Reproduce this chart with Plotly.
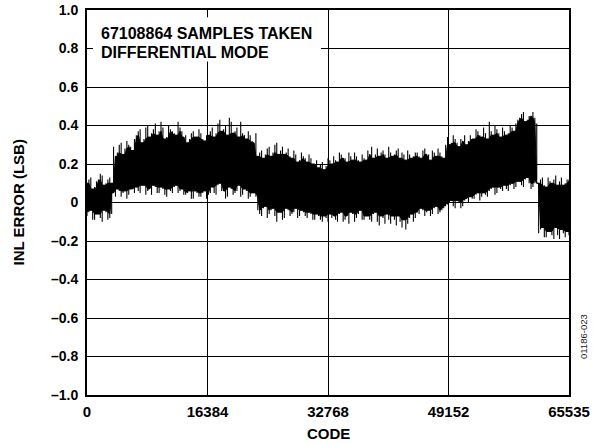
import numpy as np
import plotly.graph_objects as go

# ---- data (INL error envelope, LSB) ----
code_min = 0
code_max = 65535

# envelope at 128 evenly spaced codes
inl_upper = [
    0.10, 0.13, 0.08, 0.12, 0.14, 0.10, 0.13,
    0.29, 0.26, 0.31, 0.28, 0.30, 0.27,
    0.35, 0.38, 0.33, 0.40, 0.36, 0.41, 0.37, 0.39, 0.34, 0.38, 0.36, 0.42, 0.37,
    0.35, 0.33, 0.37, 0.34, 0.36, 0.32, 0.35,
    0.39, 0.36, 0.43, 0.38, 0.35, 0.42, 0.37, 0.34, 0.36, 0.33, 0.35, 0.31,
    0.24, 0.27, 0.25, 0.29, 0.26, 0.31, 0.27, 0.25, 0.28, 0.23, 0.25, 0.22, 0.24, 0.21, 0.23,
    0.20, 0.18, 0.21, 0.19, 0.22,
    0.24, 0.21, 0.25, 0.23, 0.26, 0.22, 0.24, 0.21, 0.23,
    0.27, 0.29, 0.25, 0.24, 0.27, 0.23, 0.26, 0.25, 0.28, 0.26, 0.22, 0.25, 0.24,
    0.26, 0.23, 0.28, 0.25, 0.27, 0.24, 0.26, 0.23,
    0.34, 0.31, 0.33, 0.29, 0.32, 0.30,
    0.35, 0.33, 0.37, 0.34, 0.36, 0.42, 0.35, 0.38, 0.34, 0.37, 0.36, 0.39, 0.41,
    0.44, 0.47, 0.43, 0.45, 0.44,
    0.10, 0.13, 0.08, 0.11, 0.12, 0.09, 0.13, 0.10, 0.12,
]
inl_lower = [
    -0.07, -0.04, -0.09, -0.06, -0.10, -0.05, -0.08,
    0.05, 0.07, 0.03, 0.06, 0.04, 0.07,
    0.08, 0.05, 0.09, 0.06, 0.04, 0.08, 0.05, 0.07, 0.03, 0.06, 0.08, 0.05, 0.07,
    0.04, 0.06, 0.02, 0.05, 0.03, 0.06, 0.04,
    0.08, 0.04, 0.10, 0.06, 0.03, 0.07, 0.05, 0.09, 0.04, 0.06, 0.03, 0.05,
    -0.04, -0.07, -0.02, -0.06, -0.03, -0.10, -0.05, -0.08, -0.04, -0.06, -0.03, -0.07, -0.05, -0.08, -0.06,
    -0.09, -0.07, -0.10, -0.08, -0.06,
    -0.07, -0.10, -0.05, -0.09, -0.11, -0.06, -0.08, -0.04, -0.09,
    -0.07, -0.10, -0.05, -0.12, -0.08, -0.06, -0.11, -0.09, -0.07, -0.13, -0.14, -0.08, -0.10,
    -0.05, -0.03, -0.07, -0.04, -0.06, -0.02, -0.05, -0.03,
    -0.01, 0.01, -0.03, 0.00, -0.02, 0.02,
    0.03, 0.02, 0.05, 0.03, 0.04, 0.06, 0.08, 0.05, 0.07, 0.09, 0.06, 0.10, 0.08,
    0.11, 0.08, 0.13, 0.07, 0.10,
    -0.16, -0.13, -0.18, -0.15, -0.19, -0.17, -0.14, -0.18, -0.15,
]

# envelope read half-way between the codes above
inl_upper_mid = [
    0.12, 0.07, 0.11, 0.15, 0.09, 0.12, 0.10,
    0.24, 0.30, 0.25, 0.32, 0.29, 0.33,
    0.37, 0.31, 0.39, 0.34, 0.38, 0.35, 0.42, 0.33, 0.40, 0.37, 0.35, 0.39, 0.34,
    0.31, 0.36, 0.34, 0.38, 0.33, 0.35, 0.37,
    0.34, 0.41, 0.37, 0.40, 0.44, 0.36, 0.39, 0.42, 0.35, 0.37, 0.32, 0.36,
    0.26, 0.23, 0.28, 0.24, 0.30, 0.25, 0.29, 0.26, 0.24, 0.27, 0.21, 0.26, 0.23, 0.25, 0.20,
    0.22, 0.20, 0.17, 0.23, 0.20,
    0.22, 0.26, 0.23, 0.21, 0.24, 0.26, 0.22, 0.25, 0.22,
    0.25, 0.23, 0.28, 0.26, 0.25, 0.29, 0.24, 0.27, 0.23, 0.25, 0.27, 0.23, 0.26,
    0.24, 0.27, 0.25, 0.22, 0.26, 0.28, 0.24, 0.30,
    0.30, 0.35, 0.31, 0.33, 0.35, 0.32,
    0.33, 0.38, 0.35, 0.39, 0.33, 0.37, 0.40, 0.36, 0.39, 0.35, 0.40, 0.37, 0.43,
    0.46, 0.42, 0.45, 0.47, 0.41,
    0.12, 0.09, 0.13, 0.10, 0.14, 0.11, 0.09, 0.12, 0.11,
]
inl_lower_mid = [
    -0.05, -0.09, -0.06, -0.08, -0.04, -0.09, -0.06,
    0.03, 0.06, 0.05, 0.02, 0.07, 0.05,
    0.06, 0.09, 0.04, 0.07, 0.09, 0.05, 0.08, 0.04, 0.07, 0.05, 0.09, 0.06, 0.04,
    0.05, 0.02, 0.06, 0.03, 0.05, 0.02, 0.05,
    0.05, 0.09, 0.06, 0.02, 0.08, 0.04, 0.06, 0.03, 0.07, 0.02, 0.05, 0.03,
    -0.06, -0.03, -0.08, -0.04, -0.07, -0.05, -0.09, -0.03, -0.07, -0.05, -0.08, -0.04, -0.07, -0.05, -0.09,
    -0.06, -0.09, -0.07, -0.10, -0.08,
    -0.09, -0.06, -0.10, -0.07, -0.05, -0.10, -0.06, -0.09, -0.07,
    -0.09, -0.06, -0.10, -0.07, -0.11, -0.09, -0.07, -0.12, -0.10, -0.09, -0.11, -0.06, -0.08,
    -0.06, -0.04, -0.05, -0.07, -0.03, -0.06, -0.04, -0.02,
    0.00, -0.02, 0.01, -0.03, 0.01, 0.00,
    0.02, 0.04, 0.01, 0.05, 0.03, 0.07, 0.04, 0.08, 0.06, 0.07, 0.09, 0.07, 0.11,
    0.09, 0.12, 0.10, 0.08, 0.12,
    -0.14, -0.18, -0.15, -0.17, -0.13, -0.19, -0.16, -0.15, -0.17,
]

x_tickvals = [0, 16384, 32768, 49152, 65535]
x_ticktext = ["0", "16384", "32768", "49152", "65535"]
y_tickvals = [1.0, 0.8, 0.6, 0.4, 0.2, 0.0, -0.2, -0.4, -0.6, -0.8, -1.0]
y_ticktext = ["1.0", "0.8", "0.6", "0.4", "0.2", "0", "\u20130.2", "\u20130.4",
              "\u20130.6", "\u20130.8", "\u20131.0"]

note_lines = ["67108864 SAMPLES TAKEN", "DIFFERENTIAL MODE"]
x_title = "CODE"
y_title = "INL ERROR (LSB)"
fig_id = "01186-023"

# ---- combine the two readings into one sequence ----
n = len(inl_upper)
codes = np.linspace(code_min, code_max, n)
half = (codes[1] - codes[0]) / 2.0
xs = np.empty(2 * n)
xs[0::2] = codes
xs[1::2] = np.minimum(codes + half, code_max)
up = np.empty(2 * n)
up[0::2] = inl_upper
up[1::2] = inl_upper_mid
lo = np.empty(2 * n)
lo[0::2] = inl_lower
lo[1::2] = inl_lower_mid

# solid core of the band: local 3-sample inner envelope of the read values
up_pad = np.concatenate([[up[0]], up, [up[-1]]])
lo_pad = np.concatenate([[lo[0]], lo, [lo[-1]]])
core_up = np.minimum(np.minimum(up_pad[:-2], up_pad[1:-1]), up_pad[2:])
core_lo = np.maximum(np.maximum(lo_pad[:-2], lo_pad[1:-1]), lo_pad[2:])
core_lo = np.minimum(core_lo, core_up)

band_x = list(xs) + list(xs[::-1])
band_y = list(core_up) + list(core_lo[::-1])

# thin vertical strokes from each lower value to each upper value (the spikes)
spike_x, spike_y = [], []
for c, u, l in zip(xs, up, lo):
    spike_x.extend([c, c, None])
    spike_y.extend([l, u, None])

FONT = "Liberation Sans, Arial, Helvetica, sans-serif"

fig = go.Figure()
fig.add_trace(go.Scatter(x=band_x, y=band_y, mode="lines", fill="toself",
                         fillcolor="black", line=dict(color="black", width=1),
                         hoverinfo="skip", showlegend=False))
fig.add_trace(go.Scatter(x=spike_x, y=spike_y, mode="lines",
                         line=dict(color="black", width=1.1),
                         hoverinfo="skip", showlegend=False, connectgaps=False))

axis_common = dict(showgrid=True, gridcolor="black", gridwidth=1,
                   showline=True, linecolor="black", linewidth=2, mirror=True,
                   ticks="inside", ticklen=6, tickcolor="black", tickwidth=1,
                   zeroline=False, automargin=False)

fig.update_layout(
    width=598, height=446,
    margin=dict(l=87, r=29, t=10, b=51),
    paper_bgcolor="white", plot_bgcolor="white",
    xaxis=dict(range=[code_min, code_max], tickvals=x_tickvals, ticktext=x_ticktext,
               ticklabelstandoff=2,
               tickfont=dict(family=FONT, size=15, color="black", weight="bold"),
               **axis_common),
    yaxis=dict(range=[-1.0, 1.0], tickvals=y_tickvals, ticktext=y_ticktext,
               ticklabelstandoff=4,
               tickfont=dict(family=FONT, size=14, color="black", weight="bold"),
               **axis_common),
    showlegend=False,
)

# white box behind the note (covers gridlines)
fig.add_shape(type="rect", xref="x", yref="y", x0=816, x1=31815, y0=0.733, y1=0.962,
              fillcolor="white", line=dict(width=0), layer="above")

for line_text, ypos in zip(note_lines, [0.9377, 0.8909]):
    fig.add_annotation(text=line_text, xref="paper", yref="paper", x=0.024, y=ypos,
                       xanchor="left", yanchor="middle", align="left", showarrow=False,
                       font=dict(family=FONT, size=16, color="black", weight="bold"))

fig.add_annotation(text=x_title, xref="paper", yref="paper", x=0.5, y=0, yshift=-38,
                   xanchor="center", yanchor="middle", showarrow=False,
                   font=dict(family=FONT, size=15, color="black", weight="bold"))

fig.add_annotation(text=y_title, xref="paper", yref="paper", x=0, xshift=-69, y=0.5,
                   xanchor="center", yanchor="middle", textangle=-90, showarrow=False,
                   font=dict(family=FONT, size=15, color="black", weight="bold"))

fig.add_annotation(text=fig_id, xref="paper", yref="paper", x=1, xshift=14, y=0, yshift=58,
                   xanchor="center", yanchor="middle", textangle=-90, showarrow=False,
                   font=dict(family=FONT, size=9.5, color="#222"))

fig.write_html("out.html", config={"displayModeBar": False},
               post_script="document.body.style.margin='0px';")
